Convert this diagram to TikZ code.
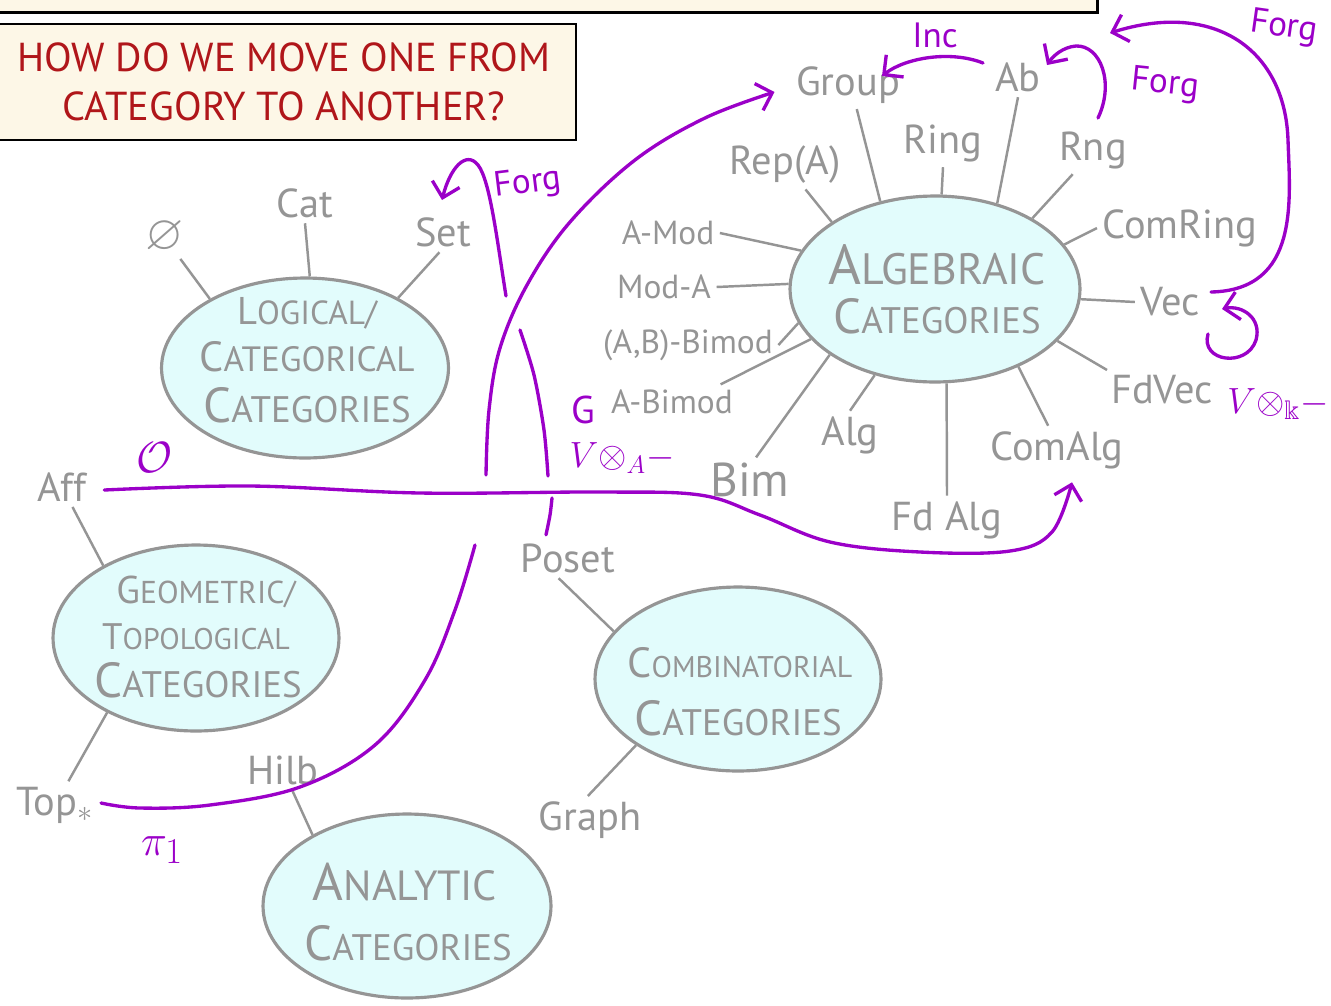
\documentclass[tikz,border=0pt]{standalone}
\usepackage{amssymb}
\usepackage{fontspec}
\setmainfont{PT Sans}
\usetikzlibrary{arrows.meta,shapes.geometric,calc}
\definecolor{cgray}{HTML}{959595}
\definecolor{cfill}{HTML}{E2FCFC}
\definecolor{cmag}{HTML}{9B00C8}
\definecolor{cred}{HTML}{B0161A}
\definecolor{ccream}{HTML}{FDF7E7}
\newcommand{\SCx}[4]{{\fontsize{#1}{#1}\selectfont #3}{\fontsize{#2}{#2}\selectfont #4}}
\begin{document}
\begin{tikzpicture}[x=0.02cm,y=-0.02cm,
  lbl/.style={text=cgray,font=\fontsize{23}{25}\selectfont,inner sep=3pt},
  slbl/.style={text=cgray,font=\fontsize{19}{21}\selectfont,inner sep=3pt},
  conn/.style={draw=cgray,line width=1.4pt},
  catell/.style={ellipse,draw=cgray,fill=cfill,line width=1.8pt,inner sep=0pt},
  cattxt/.style={text=cgray,inner sep=0pt},
  fun/.style={draw=cmag,line width=1.9pt,line cap=round,line join=round},
  funarr/.style={fun,-{Straight Barb[length=8pt,width=16pt]}},
  ftxt/.style={text=cmag,font=\fontsize{20}{22}\selectfont,inner sep=1pt},
  box/.style={draw=black,fill=ccream,line width=1.6pt,inner sep=0pt}
]
\useasboundingbox (0,0) rectangle (1331,1005);
\clip (0,0) rectangle (1331,1005);
\fill[white] (0,0) rectangle (1331,1005);

% boxes
\node[box,minimum width=22.3cm,minimum height=1.3cm] (topbox) at (540,-20) {};
\node[box,minimum width=11.68cm,minimum height=2.32cm,text=cred,
  font=\fontsize{23}{28}\selectfont,align=center] (title) at (284,82)
  {HOW DO WE MOVE ONE FROM\\CATEGORY TO ANOTHER?};

% category ellipses
\node[catell,minimum width=5.74cm,minimum height=3.6cm] (eLog) at (305,368) {};
\node[catell,minimum width=5.8cm,minimum height=3.72cm] (eAlg) at (935,289) {};
\node[catell,minimum width=5.72cm,minimum height=3.72cm] (eGeo) at (196,638) {};
\node[catell,minimum width=5.72cm,minimum height=3.68cm] (eComb) at (738,679) {};
\node[catell,minimum width=5.76cm,minimum height=3.68cm] (eAna) at (407,906) {};

\node[cattxt] (tLog1) at (307,313) {\SCx{22}{19}{L}{OGICAL/}};
\node[cattxt] (tLog2) at (307,357) {\SCx{24}{20}{C}{ATEGORICAL}};
\node[cattxt] (tLog3) at (307,405) {\SCx{28}{21}{C}{ATEGORIES}};
\node[cattxt] (tAlg1) at (937,265) {\SCx{32}{25}{A}{LGEBRAIC}};
\node[cattxt] (tAlg2) at (937,316) {\SCx{28}{21}{C}{ATEGORIES}};
\node[cattxt] (tGeo1) at (206,592) {\SCx{22}{18}{G}{EOMETRIC/}};
\node[cattxt] (tGeo2) at (196,637) {\SCx{21}{17}{T}{OPOLOGICAL}};
\node[cattxt] (tGeo3) at (198,680) {\SCx{28}{21}{C}{ATEGORIES}};
\node[cattxt] (tComb1) at (740,663) {\SCx{24}{17}{C}{OMBINATORIAL}};
\node[cattxt] (tComb2) at (738,718) {\SCx{28}{21}{C}{ATEGORIES}};
\node[cattxt] (tAna1) at (405,882) {\SCx{30}{24}{A}{NALYTIC}};
\node[cattxt] (tAna2) at (408,943) {\SCx{28}{21}{C}{ATEGORIES}};

% labels
\node[lbl,font=\fontsize{28}{28}\selectfont] (lEmpty) at (165,237) {$\varnothing$};
\node[lbl] (lCat) at (305,203) {Cat};
\node[lbl] (lSet) at (443,232) {Set};
\node[lbl] (lGroup) at (848,85) {Group};
\node[lbl] (lAb) at (1018,77) {Ab};
\node[lbl] (lRing) at (943,143) {Ring};
\node[lbl] (lRepA) at (785,165) {Rep(A)};
\node[lbl] (lRng) at (1093,150) {Rng};
\node[slbl] (lAMod) at (668,233) {A-Mod};
\node[lbl] (lComRing) at (1180,228) {ComRing};
\node[slbl] (lModA) at (664,287) {Mod-A};
\node[lbl] (lVec) at (1170,302) {Vec};
\node[slbl] (lABBimod) at (688,345) {(A,B)-Bimod};
\node[lbl] (lFdVec) at (1162,390) {FdVec};
\node[slbl] (lABimod) at (672,402) {A-Bimod};
\node[lbl] (lAlg) at (850,435) {Alg};
\node[lbl,font=\fontsize{27}{27}\selectfont] (lBim) at (750,480) {Bim};
\node[lbl] (lComAlg) at (1057,450) {ComAlg};
\node[lbl] (lFdAlg) at (947,520) {Fd Alg};
\node[lbl] (lAff) at (62,487) {Aff};
\node[lbl] (lTop) at (55,805) {Top$_*$};
\node[lbl] (lHilb) at (283,770) {Hilb};
\node[lbl] (lPoset) at (568,558) {Poset};
\node[lbl] (lGraph) at (590,820) {Graph};

% gray connectors
\draw[conn] (lEmpty.-55) -- (eLog.144);
\draw[conn] (lCat.south) -- (eLog.87);
\draw[conn] (lSet.-100) -- (eLog.37);
\draw[conn] (lGroup.-70) -- (eAlg.122);
\draw[conn] (lRing.south) -- (eAlg.86);
\draw[conn] (lAb.south) -- (eAlg.54);
\draw[conn] (lRepA.-50) -- (eAlg.147);
\draw[conn] (lRng.-130) -- (eAlg.36);
\draw[conn] (lAMod.east) -- (eAlg.164);
\draw[conn] (lComRing.west) -- (eAlg.19);
\draw[conn] (lModA.east) -- (eAlg.178);
\draw[conn] (lVec.west) -- (eAlg.-4);
\draw[conn] (lABBimod.east) -- (eAlg.194);
\draw[conn] (lFdVec.160) -- (eAlg.-23);
\draw[conn] (lABimod.20) -- (eAlg.202);
\draw[conn] (lBim.75) -- (eAlg.212);
\draw[conn] (lAlg.north) -- (eAlg.235);
\draw[conn] (lFdAlg.north) -- (eAlg.277);
\draw[conn] (lComAlg.110) -- (eAlg.317);
\draw[conn] (lAff) -- (eGeo.142);
\draw[conn] (lTop) -- (eGeo.220);
\draw[conn] (lHilb) -- (eAna.143);
\draw[conn] (lPoset.-115) -- (eComb.159);
\draw[conn] (lGraph.95) -- (eComb.213);

% magenta functors
\coordinate (oS) at ($(lAff.east)+(12,3)$);
\coordinate (oE) at ($(lComAlg.south)+(15,8)$);
\draw[funarr] plot[smooth,tension=0.6] coordinates {(oS) (250,486) (420,493) (600,492) (700,495) (760,515) (830,542) (920,552) (1010,551) (1052,532) (oE)};

\coordinate (piA) at ($(lTop.east)+(2,-2)$);
\coordinate (piB) at (475,545);
\coordinate (piC) at (486,475);
\coordinate (gIn) at ($(lGroup.west)+(-16,7)$);
\draw[fun] plot[smooth,tension=0.6] coordinates {(piA) (140,808) (210,805) (300,787) (375,745) (425,680) (455,610) (piB)};
\draw[funarr] plot[smooth,tension=0.6] coordinates {(piC) (489,410) (500,348) (527,285) (570,222) (635,160) (705,118) (gIn)};

\coordinate (psA) at ($(lPoset.north)+(-22,-3)$);
\draw[fun] plot[smooth] coordinates {(psA) (550,515) (552,498)};
\draw[fun] plot[smooth] coordinates {(548,476) (544,430) (534,375) (520,330)};
\coordinate (psS) at (506,296);
\coordinate (psE) at (442,200);
\draw[funarr] (psS) .. controls (497,240) and (490,180) .. (478,165) .. controls (466,150) and (450,168) .. (psE);

\coordinate (incS) at (983,63);
\coordinate (incE) at (882,76);
\draw[funarr] (incS) .. controls (950,50) and (905,58) .. (incE);

\coordinate (rnS) at (1098,118);
\coordinate (rnE) at (1047,65);
\draw[funarr] (rnS) .. controls (1115,82) and (1100,45) .. (1076,46) .. controls (1063,47) and (1053,56) .. (rnE);

\coordinate (vS) at ($(lVec.east)+(6,-10)$);
\coordinate (vE) at (1110,33);
\draw[funarr] (vS) .. controls (1300,290) and (1290,200) .. (1288,140) .. controls (1285,50) and (1215,0) .. (vE);

\coordinate (lpS) at (1208,334);
\coordinate (lpE) at (1222,309);
\draw[funarr] (lpS) .. controls (1200,362) and (1247,368) .. (1256,340) .. controls (1262,318) and (1242,305) .. (lpE);

% magenta labels
\node[ftxt] (tInc) at (935,35) {Inc};
\node[ftxt,rotate=-6] (tForgA) at (1165,85) {Forg};
\node[ftxt,rotate=-8] (tForgB) at (1284,28) {Forg};
\node[ftxt,rotate=7] (tForgS) at (528,184) {Forg};
\node[ftxt,font=\fontsize{24}{24}\selectfont] (tO) at (155,458) {$\mathcal{O}$};
\node[ftxt,font=\fontsize{30}{30}\selectfont] (tPi) at (162,850) {$\pi_1$};
\node[ftxt,font=\fontsize{22}{22}\selectfont] (tG) at (583,410) {G};
\node[ftxt] (tVA) at (622,458) {${V}{\otimes}_{A}{-}$};
\node[ftxt,font=\fontsize{22}{22}\selectfont] (tVk) at (1278,404) {${V}{\otimes}_{\Bbbk}{-}$};
\end{tikzpicture}
\end{document}
